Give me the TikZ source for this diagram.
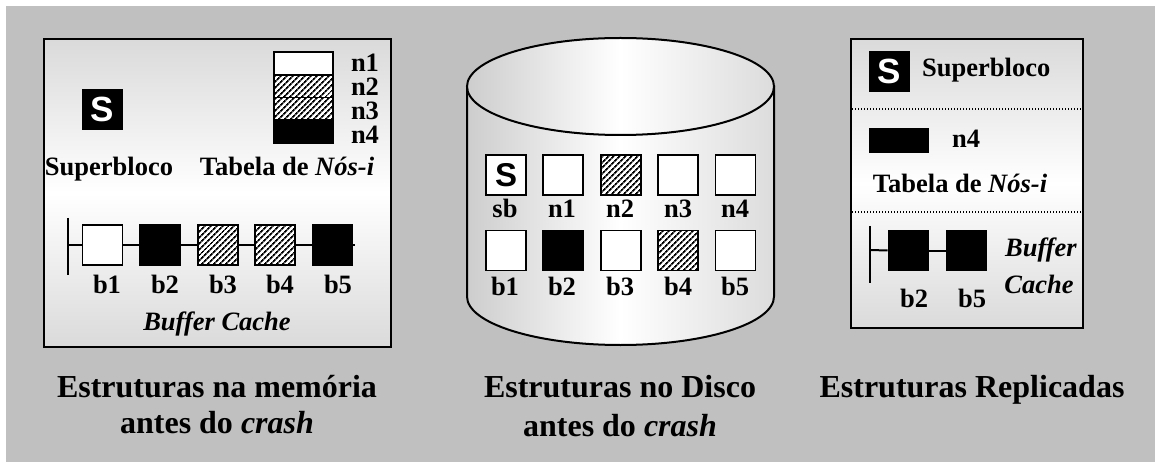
\documentclass[tikz,border=0pt]{standalone}
\usepackage{fontspec}
\setmainfont{Liberation Serif}
\newfontfamily\sansS{Liberation Sans}
\usetikzlibrary{patterns.meta}
\definecolor{bggray}{RGB}{192,192,192}
\definecolor{panelgray}{RGB}{218,218,218}
\definecolor{cylgray}{RGB}{205,205,205}
\newcommand\lblfont{\fontsize{26.5}{28}\selectfont\bfseries}
\newcommand\ttlfont{\fontsize{32}{36}\selectfont\bfseries}
\newcommand\sfont{\sansS\bfseries\fontsize{35}{35}\selectfont}
\begin{document}
\begin{tikzpicture}[x=1pt,y=-1pt,
  lbl/.style={font=\lblfont, inner sep=0, anchor=base},
  ttl/.style={font=\ttlfont, inner sep=0, anchor=base},
  panel/.style={draw=black, line width=2.5pt, top color=panelgray, bottom color=panelgray, middle color=white},
  blk/.style={draw=black, line width=1.6pt, minimum width=40pt, minimum height=40pt, inner sep=0, fill=white},
  blkdark/.style={blk, fill=black},
  blkhatch/.style={blk, preaction={fill=white}, pattern={Lines[angle=45,distance=4pt,line width=1.8pt]}},
  sblack/.style={fill=black, text=white, font=\sfont, minimum size=41pt, inner sep=0},
  chain/.style={line width=2pt},
  sep/.style={line width=1.2pt, dash pattern=on 1.4pt off 1.6pt}
]
\useasboundingbox (0,0) rectangle (1155,462);
\fill[white] (0,0) rectangle (1155,462);
\fill[bggray] (6,6) rectangle (1155,462);

% ---------- Panel 1 ----------
\path[panel] (44,39) rectangle (391,347);
\node[sblack] (s1) at (102.5,109.5) {S};
\node[blk, minimum width=59pt, minimum height=22.75pt] (t1) at (303.5,63.4) {};
\node[blkhatch, minimum width=59pt, minimum height=22.75pt] (t2) at (303.5,86.1) {};
\node[blkhatch, minimum width=59pt, minimum height=22.75pt] (t3) at (303.5,108.9) {};
\node[blkdark, minimum width=59pt, minimum height=22.75pt] (t4) at (303.5,131.6) {};
\node[lbl] (ln1) at (365,72) {n1};
\node[lbl] (ln2) at (365,96) {n2};
\node[lbl] (ln3) at (365,120) {n3};
\node[lbl] (ln4) at (365,144) {n4};
\node[lbl] (sup1) at (109,176) {Superbloco};
\node[lbl] (tab1) at (287,176) {Tabela de \textit{Nós-i}};

\coordinate (bartop1) at (68,218);
\coordinate (barbot1) at (68,275);
\coordinate (bar1) at (68,245);
\coordinate (end1) at (355,245);
\draw[chain] (bartop1) -- (barbot1);
\node[blk] (b1) at (102.5,245) {};
\node[blkdark] (b2) at (160,245) {};
\node[blkhatch] (b3) at (218,245) {};
\node[blkhatch] (b4) at (275,245) {};
\node[blkdark] (b5) at (332.5,245) {};
\draw[chain] (bar1) -- (b1.west);
\draw[chain] (b1) -- (b2);
\draw[chain] (b2) -- (b3);
\draw[chain] (b3) -- (b4);
\draw[chain] (b4) -- (b5);
\draw[chain] (b5.east) -- (end1);
\node[lbl] (lb1) at (107,293) {b1};
\node[lbl] (lb2) at (165,293) {b2};
\node[lbl] (lb3) at (223,293) {b3};
\node[lbl] (lb4) at (280,293) {b4};
\node[lbl] (lb5) at (338,293) {b5};
\node[lbl] (bc1) at (217,330) {\textit{Buffer Cache}};
\node[ttl] (ti1a) at (217,397) {Estruturas na memória};
\node[ttl] (ti1b) at (217,433) {antes do \textit{crash}};

% ---------- Panel 2 (disk) ----------
\path[draw=black, line width=2pt, left color=cylgray, right color=cylgray!70!white, middle color=white]
  (467,86.5) -- (467,296.5) arc[start angle=180, end angle=0, x radius=153.5, y radius=48.5] -- (774,86.5) -- cycle;
\path[draw=black, line width=2pt, left color=cylgray, right color=cylgray!70!white, middle color=white]
  (620.5,86.5) ellipse[x radius=153.5, y radius=48.5];
\node[blk, font=\sansS\bfseries\fontsize{33}{33}\selectfont] (dsb) at (506,175) {S};
\node[blk] (dn1) at (563,175) {};
\node[blkhatch] (dn2) at (621,175) {};
\node[blk] (dn3) at (678,175) {};
\node[blk] (dn4) at (735.5,175) {};
\node[blk] (db1) at (506,250.5) {};
\node[blkdark] (db2) at (563,250.5) {};
\node[blk] (db3) at (621,250.5) {};
\node[blkhatch] (db4) at (678,250.5) {};
\node[blk] (db5) at (735.5,250.5) {};
\node[lbl] (ldsb) at (505,218) {sb};
\node[lbl] (ldn1) at (562,218) {n1};
\node[lbl] (ldn2) at (620,218) {n2};
\node[lbl] (ldn3) at (678,218) {n3};
\node[lbl] (ldn4) at (735,218) {n4};
\node[lbl] (ldb1) at (505,295) {b1};
\node[lbl] (ldb2) at (562,295) {b2};
\node[lbl] (ldb3) at (620,295) {b3};
\node[lbl] (ldb4) at (678,295) {b4};
\node[lbl] (ldb5) at (735,295) {b5};
\node[ttl] (ti2a) at (620,397) {Estruturas no Disco};
\node[ttl] (ti2b) at (620,436) {antes do \textit{crash}};

% ---------- Panel 3 ----------
\path[panel] (851,39) rectangle (1083,328);
\node[sblack] (s3) at (889.5,71.5) {S};
\node[lbl, anchor=base west] (sup3) at (922,77) {Superbloco};
\coordinate (d1a) at (852,109);
\coordinate (d1b) at (1082,109);
\draw[sep] (d1a) -- (d1b);
\node[fill=black, minimum width=60pt, minimum height=25pt, inner sep=0] (rn4) at (899,140.5) {};
\node[lbl] (ln4r) at (966,148) {n4};
\node[lbl] (tab3) at (960,193) {Tabela de \textit{Nós-i}};
\coordinate (d2a) at (852,212);
\coordinate (d2b) at (1082,212);
\draw[sep] (d2a) -- (d2b);
\coordinate (bartop3) at (870,226);
\coordinate (barbot3) at (870,283);
\coordinate (bar3) at (870,250);
\draw[chain] (bartop3) -- (barbot3);
\node[blkdark] (rb2) at (908.5,250.5) {};
\node[blkdark] (rb5) at (966.5,250.5) {};
\draw[chain] (bar3) -- (rb2.west);
\draw[chain] (rb2) -- (rb5);
\node[lbl] (lrb2) at (914,307) {b2};
\node[lbl] (lrb5) at (972,307) {b5};
\node[lbl] (buf3) at (1041,256) {\textit{Buffer}};
\node[lbl] (cac3) at (1039,293) {\textit{Cache}};
\node[ttl] (ti3) at (972,397) {Estruturas Replicadas};
\end{tikzpicture}
\end{document}
